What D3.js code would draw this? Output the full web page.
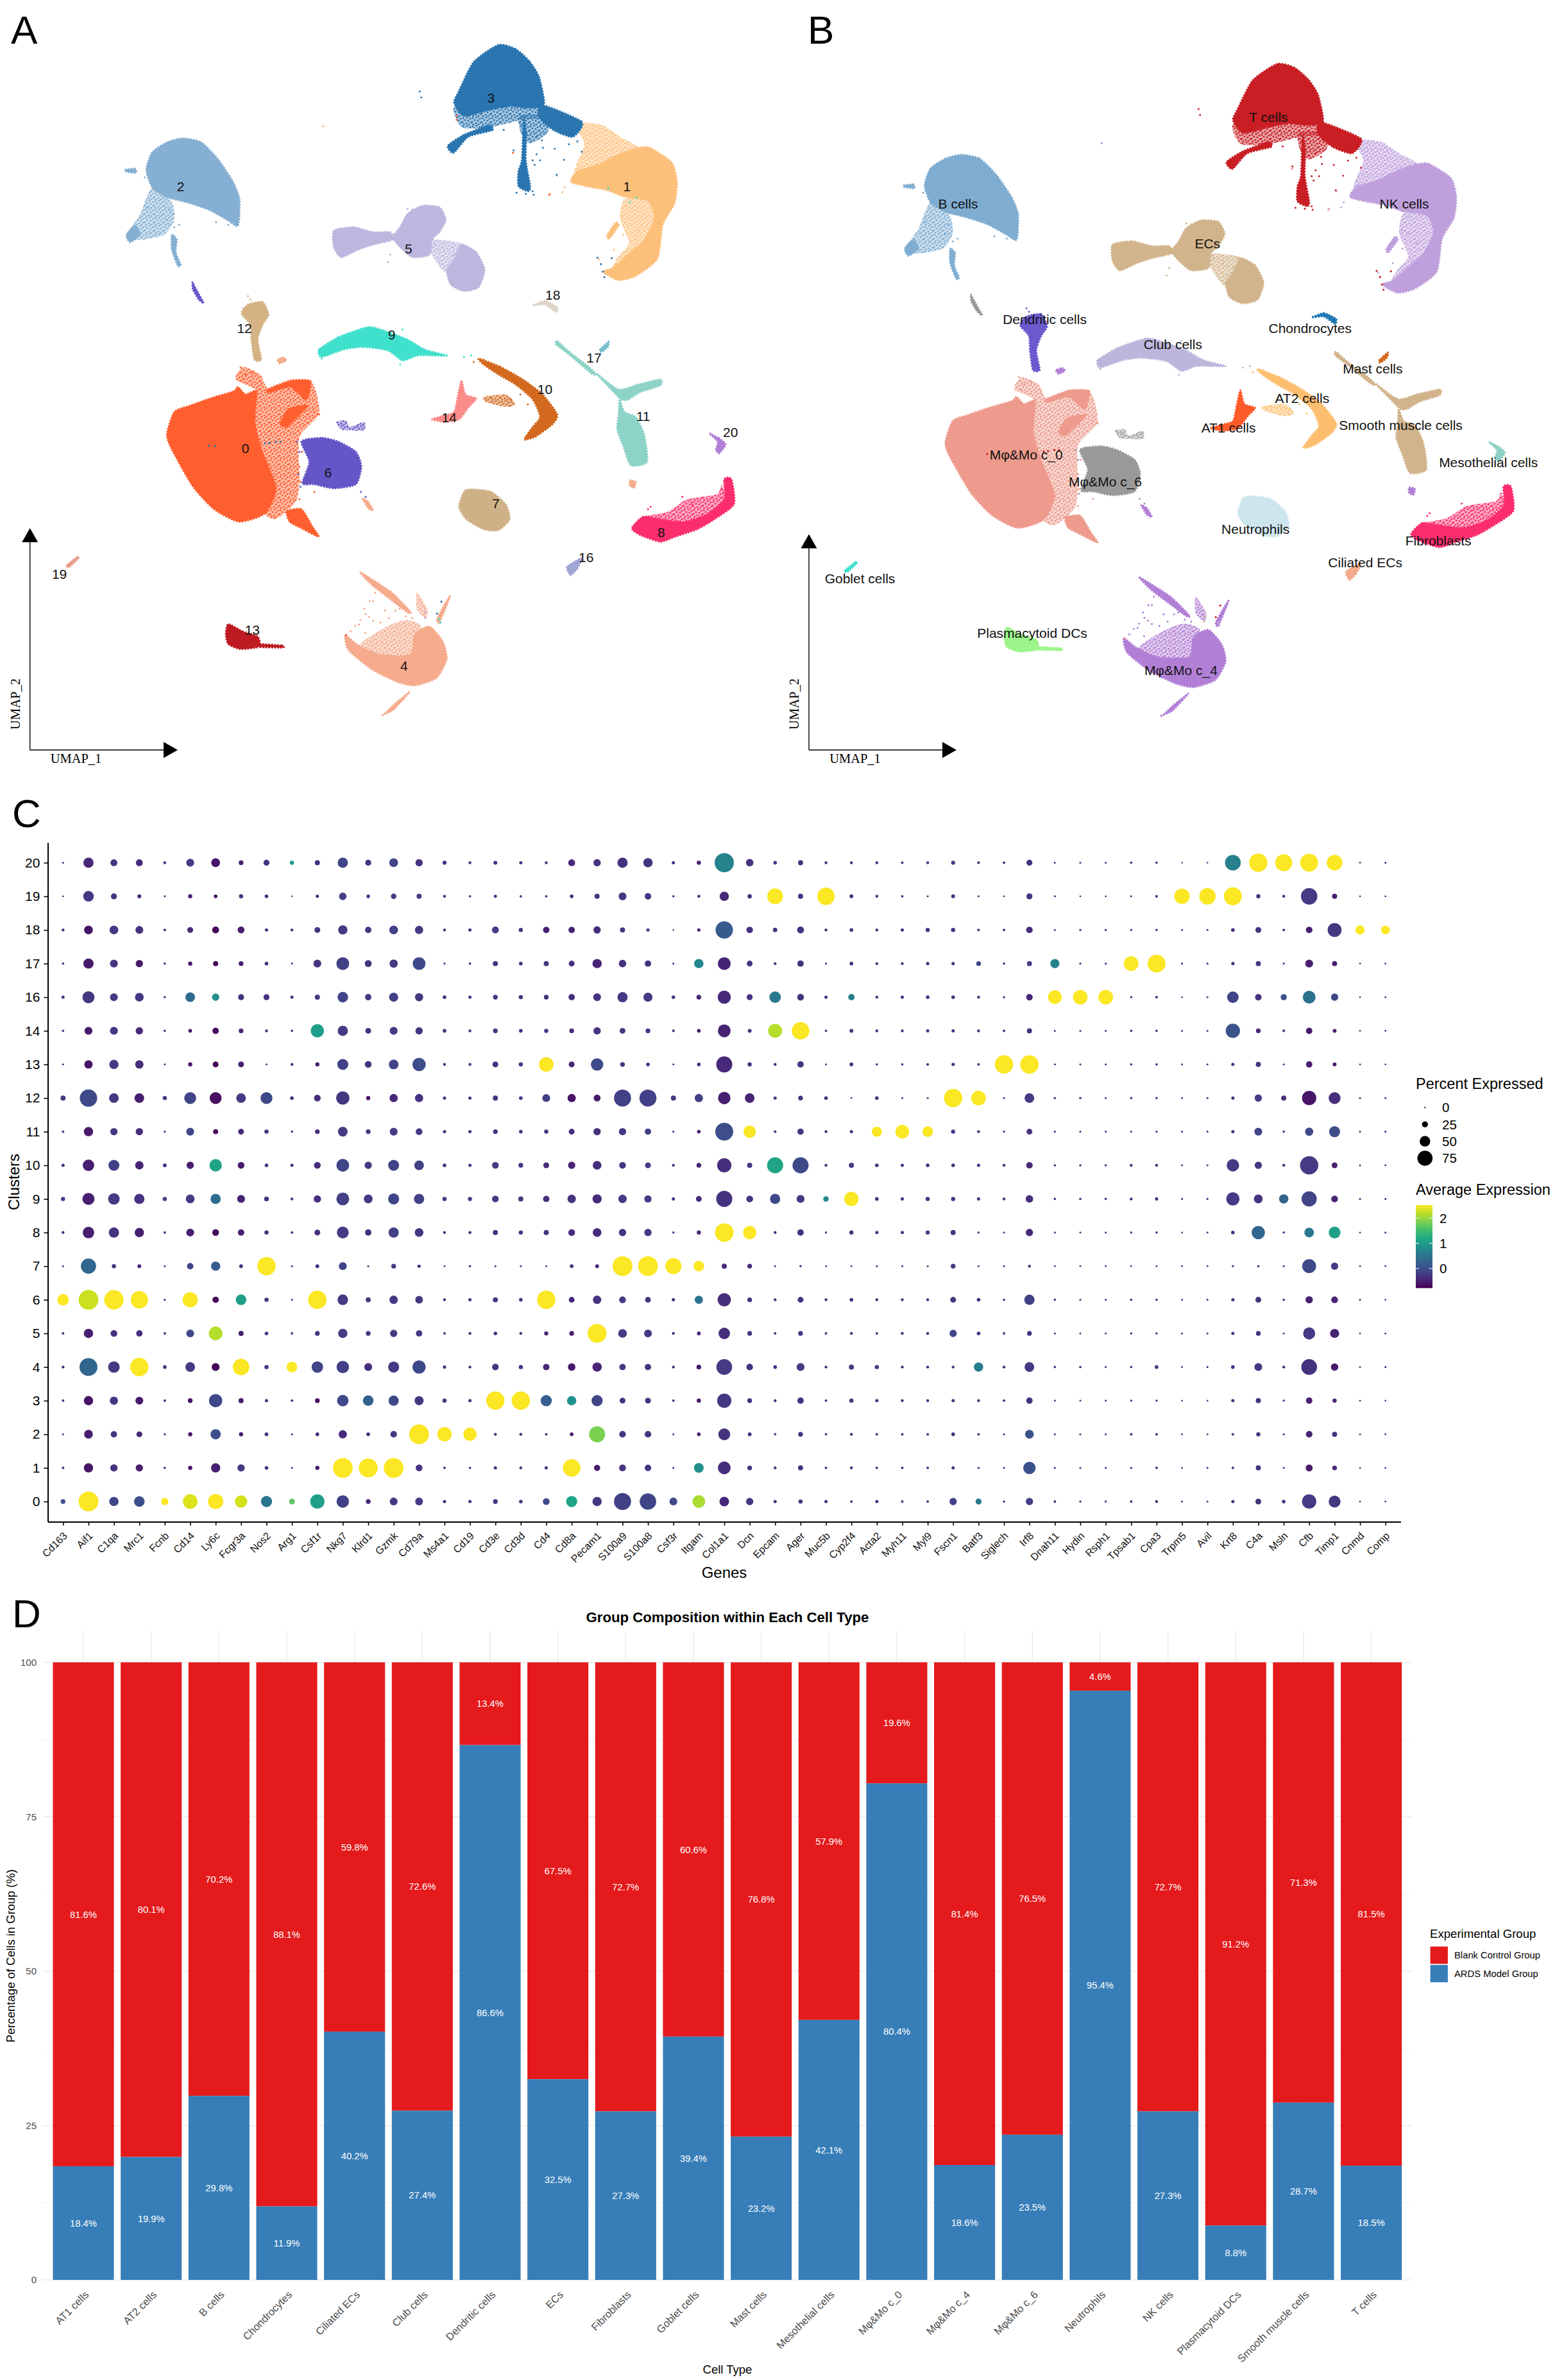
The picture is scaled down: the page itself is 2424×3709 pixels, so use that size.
<!DOCTYPE html>
<html><head><meta charset="utf-8">
<script src="https://cdn.jsdelivr.net/npm/d3@7/dist/d3.min.js"></script>
<style>
html,body{margin:0;padding:0;background:#fff}
svg{display:block}
text{font-family:"Liberation Sans",Arial,sans-serif}
</style></head><body><div id="chart"></div>
<script>
/* ---------- PANEL A / B : UMAP cell clouds (outline polygons + stray cells) ---------- */
const c0Dense=[[[485,775],[500,790],[523,784],[519,848],[536,909],[562,977],[540,1028],[487,1045],[435,1019],[392,973],[350,900],[340,870],[355,825],[388,812],[431,797],[475,784]],[[545,780],[592,762],[631,762],[632,775],[623,801],[592,775],[549,786]],[[588,819],[627,812],[610,831],[584,855],[571,848]],[[584,1024],[614,1020],[636,1054],[649,1075],[614,1058],[590,1045]]];
const c0Sparse=[[[480,760],[495,735],[530,750],[550,780],[632,763],[650,828],[610,875],[610,960],[605,1000],[585,1024],[560,1040],[540,1028],[562,977],[536,909],[519,848],[523,784]]];
const c0Dots=[[490,735],[500,750],[515,745],[495,760],[650,830],[640,825],[615,905],[610,935],[612,965],[610,1000],[640,985],[625,880]];
const c1Dense=[[[1302,296],[1324,296],[1368,325],[1379,364],[1374,407],[1350,450],[1339,518],[1294,553],[1259,561],[1228,544],[1250,536],[1280,510],[1311,480],[1333,437],[1320,402],[1272,394],[1237,381],[1194,373],[1163,364],[1176,343],[1219,330],[1263,308]],[[1254,446],[1260,452],[1241,478],[1237,471]]];
const c1Sparse=[[[1176,260],[1185,246],[1228,251],[1263,274],[1302,296],[1275,315],[1219,335],[1170,345],[1190,290]],[[1272,398],[1324,402],[1333,437],[1307,482],[1276,517],[1246,540],[1259,514],[1281,486],[1263,438]]];
const c1Dots=[[1135,352],[1120,388],[1145,385],[1150,375],[1238,378],[1268,432],[1282,440],[1270,470],[1250,500],[1220,520],[1300,460]];
const c2Dense=[[[372,277],[410,285],[445,320],[475,365],[488,400],[485,452],[462,440],[425,420],[380,405],[340,395],[310,375],[298,340],[310,305],[340,285]],[[258,470],[275,452],[285,470],[265,485]],[[350,470],[360,480],[358,505],[368,530],[362,532],[350,500]],[[255,340],[275,338],[277,346],[258,344]]];
const c2Sparse=[[[310,375],[350,405],[355,440],[335,470],[290,480],[260,480],[258,468],[285,430]]];
const c2Dots=[[355,455],[365,450],[340,440],[345,420],[330,430],[300,415],[350,490],[362,520],[295,355],[300,350],[440,445],[465,450],[480,440]];
const c3Dense=[[[1015,90],[1050,98],[1078,122],[1098,154],[1108,210],[1071,216],[1041,212],[997,220],[945,232],[925,206],[934,184],[965,124]],[[997,251],[1002,261],[954,274],[924,306],[912,292],[945,270]],[[1067,235],[1072,270],[1071,321],[1080,373],[1076,383],[1056,373],[1056,343],[1063,321],[1065,270]],[[1104,210],[1185,244],[1167,274],[1128,261],[1098,235]]];
const c3Sparse=[[[925,215],[1000,205],[1060,200],[1108,215],[1115,236],[1063,240],[997,255],[941,255]],[[1058,231],[1115,232],[1115,266],[1080,287],[1061,266]]];
const c3Dots=[[1026,260],[1046,301],[1093,274],[1104,281],[1106,296],[1093,309],[1085,321],[1100,321],[1089,330],[1130,298],[1149,320],[1159,289],[1185,304],[1176,283],[1085,383],[1087,390],[1052,386],[1071,388],[1134,350],[855,183],[858,195]];
const c4Dense=[[[703,1272],[732,1294],[775,1311],[836,1311],[845,1270],[875,1255],[902,1285],[910,1320],[889,1358],[845,1373],[810,1366],[758,1341],[710,1302]],[[734,1146],[797,1186],[836,1225],[829,1226],[788,1195],[758,1172]],[[917,1193],[910,1212],[895,1247],[890,1240],[906,1210]],[[834,1386],[821,1401],[801,1422],[777,1433],[784,1429],[805,1409]],[[738,998],[750,1005],[760,1022],[750,1018]],[[1283,962],[1295,965],[1292,977],[1283,973]],[[565,720],[578,716],[583,722],[570,728]]];
const c4Sparse=[[[732,1294],[758,1272],[797,1251],[827,1242],[858,1255],[845,1311],[775,1311]],[[849,1186],[871,1221],[867,1238],[849,1221]]];
const c4Dots=[[753,1204],[760,1204],[742,1219],[745,1230],[734,1242],[723,1253],[714,1264],[731,1251],[744,1268],[764,1187],[752,1236],[760,1243],[775,1247],[784,1223],[792,1238],[805,1223],[814,1219],[827,1234],[840,1238],[658,253]];
const c5Dense=[[[860,412],[895,415],[908,440],[895,465],[880,480],[875,510],[840,515],[815,495],[800,475],[815,455],[830,428]],[[680,462],[720,455],[760,465],[795,465],[800,480],[760,490],[730,500],[695,515],[680,495]],[[940,490],[970,505],[987,540],[975,575],[945,583],[918,570],[910,540],[925,520]]];
const c5Sparse=[[[875,480],[945,490],[930,540],[905,545],[880,510]]];
const c5Dots=[[830,418],[840,420],[695,515],[735,483],[795,510],[790,525],[870,505],[885,490],[905,500],[925,510],[935,515]];
const c6Dense=[[[614,884],[657,877],[690,885],[725,905],[736,934],[725,970],[680,978],[640,970],[616,968],[630,925]],[[392,565],[400,580],[415,607],[405,600],[393,580]]];
const c6Sparse=[[[685,845],[705,842],[712,855],[742,845],[742,862],[715,862],[695,860]]];
const c6Dots=[[605,885],[610,905],[608,950],[612,975],[735,985],[745,995]];
const c7Dense=[[[960,980],[1000,985],[1030,1010],[1038,1040],[1015,1062],[985,1060],[950,1040],[935,1015],[945,985]]];
const c8Dense=[[[1287,1058],[1310,1035],[1345,1040],[1395,1045],[1440,1030],[1475,1000],[1475,960],[1490,960],[1495,1010],[1455,1040],[1420,1060],[1375,1075],[1345,1085],[1305,1072]]];
const c8Sparse=[[[1310,1035],[1360,1025],[1400,1000],[1460,990],[1470,970],[1475,1000],[1440,1030],[1395,1045],[1345,1040]]];
const c8Dots=[[1320,1020],[1325,1015],[1390,995],[1410,1010]];
const c9Dense=[[[650,700],[690,675],[750,655],[790,665],[830,680],[865,700],[910,712],[880,712],[850,712],[820,722],[790,702],[740,695],[700,700],[655,715]]];
const c9Dots=[[655,718],[650,700],[820,660],[815,730],[960,712],[945,715]];
const c10Dense=[[[975,718],[1020,735],[1065,760],[1105,790],[1135,830],[1125,850],[1090,875],[1068,880],[1085,855],[1100,835],[1085,800],[1050,770],[1015,750],[985,730]]];
const c10Sparse=[[[985,795],[1030,790],[1050,810],[1030,815],[990,805]]];
const c10Dots=[[985,720],[965,725],[1040,800],[1060,790],[1075,810]];
const c11Dense=[[[1215,748],[1260,780],[1300,770],[1345,760],[1345,772],[1305,785],[1280,800],[1265,800],[1240,775]],[[1262,800],[1272,825],[1295,835],[1312,870],[1318,925],[1285,932],[1270,895],[1257,860],[1260,830]]];
const c12Dense=[[[505,610],[535,605],[547,630],[535,650],[525,680],[532,720],[518,720],[512,680],[510,650],[492,628]]];
const c12Dots=[[505,593],[510,600],[495,618]];
const c13Dense=[[[465,1250],[495,1265],[525,1275],[528,1295],[490,1300],[465,1290],[460,1270]],[[530,1290],[575,1293],[575,1297],[530,1296]]];
const c14Dense=[[[940,762],[948,790],[970,798],[955,815],[935,840],[905,845],[880,840],[905,832],[925,825],[932,795]]];
const c16Dense=[[[1185,1118],[1175,1140],[1162,1152],[1155,1135]]];
const c17Dense=[[[1135,683],[1160,705],[1200,735],[1215,750],[1205,748],[1165,715],[1133,690]]];
const c17bDense=[[[1222,700],[1240,684],[1238,695],[1225,705]]];
const c18Dense=[[[1085,612],[1110,603],[1135,615],[1132,625],[1110,610]]];
const c19Dense=[[[135,1133],[158,1115],[160,1118],[142,1135]]];
const c20Dense=[[[1445,868],[1465,878],[1478,890],[1465,908],[1458,900],[1462,885]]];

const cloudIds=["0","1","2","3","4","5","6","7","8","9","10","11","12","13","14","16","17","17b","18","19","20"];
const cloudDense=[c0Dense,c1Dense,c2Dense,c3Dense,c4Dense,c5Dense,c6Dense,c7Dense,c8Dense,c9Dense,c10Dense,c11Dense,c12Dense,c13Dense,c14Dense,c16Dense,c17Dense,c17bDense,c18Dense,c19Dense,c20Dense];
const cloudSparse=[c0Sparse,c1Sparse,c2Sparse,c3Sparse,c4Sparse,c5Sparse,c6Sparse,[],c8Sparse,[],c10Sparse,[],[],[],[],[],[],[],[],[],[]];
const cloudDots=[c0Dots,c1Dots,c2Dots,c3Dots,c4Dots,c5Dots,c6Dots,[],c8Dots,c9Dots,c10Dots,[],c12Dots,[],[],[],[],[],[],[],[]];
const colorsA=["#FF5E2E","#FDC07A","#85AFD3","#2A75B0","#F5AB8C","#BEB6DE","#6556C8","#CFB186","#FB2D6C","#3FE0CC","#D2691E","#8DD3C7","#D4B283","#BE1C22","#FB8C8A","#A0A6D4","#8DD3C7","#76BFCB","#DDD3C9","#E89C8A","#B07FD4"];
const colorsB=["#EE9A8C","#BFA0DC","#7FADD2","#C81E24","#B27FD6","#D2B48C","#999999","#CDE6EE","#FB2D6C","#BDB5DC","#FDBF6F","#D2B48C","#6A5ACD","#9BF58A","#FF5A2A","#F4A98A","#D2B48C","#D2691E","#1F78B4","#40E0D0","#8ECFC6"];
/* cells of one cluster sitting inside another cluster's cloud: x, y, index into cloudIds */
const foreignX=[549,562,571,540,438,425,1283,1296,1239,897,895,866,866,899,890,705,1217,1224,1228,1231,1246,1045,1119,930,930];
const foreignY=[887,885,885,888,894,893,405,396,377,1247,1240,1227,1238,1205,1229,1272,516,529,544,555,517,306,390,232,240];
const foreignCloud=[3,3,3,3,3,3,9,9,9,9,9,5,5,3,3,0,3,3,3,3,3,0,0,0,0];

const clusterLabelText=["0","1","2","3","4","5","6","7","8","9","10","11","12","13","14","16","17","18","19","20"];
const clusterLabelX=[500,1277,368,1000,823,832,668,1010,1347,798,1110,1310,498,514,915,1194,1210,1126,121,1488];
const clusterLabelY=[898,373,373,196,1333,498,946,1008,1066,670,779,833,657,1262,836,1116,716,590,1149,866];
const cellLabelText=["T cells","NK cells","B cells","ECs","Chondrocytes","Dendritic cells","Club cells","Mast cells","AT2 cells","AT1 cells","Smooth muscle cells","Mesothelial cells","Mφ&Mo c_0","Mφ&Mo c_6","Neutrophils","Fibroblasts","Ciliated ECs","Goblet cells","Plasmacytoid DCs","Mφ&Mo c_4"];
const cellLabelX=[996,1267,376,874,1079,549,805,1204,1063,916,1260,1435,512,670,970,1335,1189,180,524,821];
const cellLabelY=[235,408,408,488,657,639,690,738,798,856,851,926,911,965,1060,1083,1127,1159,1268,1343];

/* ---------- PANEL C : dot plot ---------- */
const genes=["Cd163","Aif1","C1qa","Mrc1","Fcnb","Cd14","Ly6c","Fcgr3a","Nos2","Arg1","Csf1r","Nkg7","Klrd1","Gzmk","Cd79a","Ms4a1","Cd19","Cd3e","Cd3d","Cd4","Cd8a","Pecam1","S100a9","S100a8","Csf3r","Itgam","Col1a1","Dcn","Epcam","Ager","Muc5b","Cyp2f4","Acta2","Myh11","Myl9","Fscn1","Batf3","Siglech","Irf8","Dnah11","Hydin","Rsph1","Tpsab1","Cpa3","Trpm5","Avil","Krt8","C4a","Msln","Cfb","Timp1","Cnmd","Comp"];
const dotClusters=[0,1,2,3,4,5,6,7,8,9,10,11,12,13,14,16,17,18,19,20];
const percentExpressed=[
[18,100,43,50,32,72,75,60,53,24,70,60,18,35,35,10,10,18,12,29,53,43,85,82,35,62,45,32,10,15,10,6,10,6,6,32,25,5,32,6,4,4,6,8,3,3,10,24,12,70,57,2,2],
[6,43,32,32,5,15,43,32,12,3,15,100,95,100,29,6,5,10,8,10,88,26,29,28,3,45,62,18,8,20,6,8,6,6,6,10,4,3,60,3,3,3,4,6,2,3,6,20,3,30,18,2,2],
[3,40,27,24,4,15,48,15,12,3,12,37,12,28,100,70,65,8,8,6,12,80,28,28,3,12,57,13,5,18,5,8,6,6,6,12,6,3,40,3,3,3,6,6,2,2,6,15,3,28,20,2,2],
[6,43,37,35,6,18,65,20,10,6,18,55,50,48,42,15,10,92,92,53,43,53,24,24,6,15,70,18,8,27,6,15,10,8,8,10,8,6,27,3,3,3,4,4,2,2,10,20,4,27,15,2,2],
[8,90,55,92,12,45,35,82,15,50,55,60,35,52,65,10,8,28,15,27,33,43,27,27,8,18,78,28,12,35,8,20,15,8,8,8,43,8,45,5,5,3,5,12,2,3,12,35,8,78,32,2,3],
[6,43,29,27,6,35,67,20,12,6,18,43,18,32,27,6,8,12,8,15,18,95,40,35,8,13,55,18,6,18,6,8,6,8,8,32,12,6,18,3,3,3,5,5,3,3,10,18,3,58,42,2,3],
[55,100,98,87,4,75,27,50,15,3,92,50,20,38,34,8,10,20,12,92,24,38,29,24,10,37,65,18,8,24,8,12,8,8,8,24,12,5,48,5,3,3,5,5,3,3,10,24,5,32,29,3,2],
[3,75,15,13,3,27,43,13,92,3,13,35,3,18,10,2,5,3,3,2,12,13,100,100,80,50,20,18,3,5,3,2,3,3,3,18,3,3,8,2,2,2,2,2,2,2,4,5,3,68,32,2,2],
[8,55,48,43,6,35,29,27,15,6,24,57,27,48,40,8,9,20,15,20,29,40,32,32,5,15,93,65,8,27,4,15,10,10,15,20,4,3,32,3,3,3,4,5,2,3,12,65,5,45,57,2,3],
[15,58,55,48,15,40,48,35,18,8,32,62,40,52,48,15,15,29,20,27,38,42,38,32,10,24,80,29,48,35,22,70,12,10,15,15,10,8,33,5,5,5,8,10,3,3,65,40,43,75,29,3,3],
[10,55,52,38,13,32,60,29,12,10,29,62,32,52,45,12,10,29,18,24,32,40,29,24,8,18,70,20,80,80,8,20,12,10,12,12,10,8,28,5,5,5,8,8,3,3,60,32,8,92,24,3,3],
[6,43,32,32,4,35,20,24,15,5,18,45,18,35,29,10,10,18,12,15,24,32,32,27,4,12,90,60,7,27,8,10,48,67,50,15,8,4,24,4,3,3,3,4,3,3,10,35,5,37,52,3,3],
[20,87,45,45,15,57,57,45,57,12,29,65,15,37,37,10,10,20,12,35,37,30,85,85,20,37,60,45,10,18,12,2,12,3,3,92,72,3,45,5,5,3,5,5,3,3,10,32,20,70,57,3,3],
[3,38,43,38,3,15,24,24,3,8,15,52,29,45,65,8,8,24,15,72,24,60,18,12,3,12,80,15,8,27,3,13,5,5,7,10,6,92,93,3,3,3,5,5,3,3,10,20,3,27,13,2,2],
[5,35,35,32,5,12,27,18,8,5,65,48,24,35,32,12,8,18,12,15,18,32,24,18,7,12,62,13,68,88,5,13,8,8,10,10,8,6,20,3,3,3,5,5,3,3,70,18,7,27,13,2,2],
[10,58,35,40,5,45,32,25,25,10,20,50,27,42,37,12,10,18,15,18,27,35,48,42,12,18,64,25,55,29,10,27,8,10,12,12,8,5,28,67,72,72,5,7,2,3,55,28,26,62,32,2,3],
[5,48,35,32,5,15,20,18,12,3,35,62,30,37,62,3,6,20,12,20,24,43,33,27,3,43,62,24,8,27,3,12,8,8,10,10,18,5,20,42,3,3,72,90,3,3,10,20,3,35,20,2,2],
[8,40,40,35,7,24,30,30,10,8,24,43,27,40,37,8,10,30,15,27,27,32,20,10,1,10,87,28,16,30,8,12,8,10,15,15,7,6,28,3,4,4,4,5,3,3,12,24,7,28,68,42,40],
[2,50,25,14,3,15,12,15,12,1,10,33,12,22,20,8,5,10,6,6,12,20,35,28,5,8,43,16,78,20,87,13,8,6,3,13,3,2,25,3,2,2,3,7,76,82,90,15,8,82,20,2,2],
[3,48,30,30,8,35,40,18,25,15,20,48,25,40,32,14,8,13,10,8,30,32,48,43,10,15,97,33,12,20,8,8,8,6,8,14,7,6,25,3,3,3,5,5,1,1,78,92,85,90,78,2,3]
];
const averageExpression=[
[0,2.5,-.1,0,2.5,2.35,2.5,2.3,.5,1.7,1.1,-.15,-.4,-.25,-.2,-.3,-.3,-.3,-.3,-.05,1.15,-.25,-.15,-.1,-.05,2.1,-.4,-.25,-.3,-.3,-.3,-.3,-.3,-.3,-.3,-.15,.55,-.3,-.15,-.3,-.3,-.3,-.3,-.3,-.3,-.3,-.3,-.3,-.3,-.2,-.25,-.3,-.3],
[-.3,-.6,-.3,-.5,-.3,-.65,-.5,-.25,-.3,-.3,-.55,2.5,2.5,2.5,-.3,-.3,-.3,-.3,-.3,-.35,2.5,-.55,-.3,-.25,-.3,.85,-.35,-.3,-.3,-.3,-.3,-.3,-.3,-.3,-.3,-.3,-.3,-.3,.05,-.3,-.3,-.3,-.3,-.3,-.3,-.3,-.3,-.3,-.3,-.55,-.4,-.3,-.3],
[-.3,-.5,-.25,-.4,-.3,-.6,0,-.55,-.3,-.3,-.4,-.4,-.3,-.25,2.5,2.5,2.5,-.3,-.3,-.3,-.55,1.85,-.3,-.25,-.3,-.5,-.3,-.3,-.3,-.3,-.3,-.3,-.3,-.3,-.3,-.3,-.3,-.3,.05,-.3,-.3,-.3,-.3,-.3,-.3,-.3,-.3,-.3,-.3,-.45,-.3,-.3,-.3],
[-.3,-.6,-.25,-.55,-.3,-.6,-.05,-.55,-.3,-.3,-.65,-.05,.25,-.05,-.25,-.3,-.3,2.5,2.5,.2,.9,-.1,-.3,-.3,-.3,-.6,-.25,-.3,-.3,-.3,-.3,-.3,-.3,-.3,-.3,-.3,-.3,-.3,-.3,-.3,-.3,-.3,-.3,-.3,-.3,-.3,-.3,-.3,-.3,-.5,-.4,-.3,-.3],
[-.3,.3,-.2,2.5,-.3,-.2,-.75,2.5,-.3,2.5,-.1,-.15,-.35,-.2,-.05,-.3,-.3,-.3,-.3,-.45,-.55,-.45,-.25,-.25,-.3,-.55,-.2,-.3,-.3,-.2,-.3,-.2,-.25,-.3,-.3,-.3,.6,-.3,-.2,-.3,-.3,-.3,-.3,-.3,-.3,-.3,-.3,-.2,-.3,-.3,-.55,-.3,-.3],
[-.3,-.5,-.3,-.35,-.3,-.05,2.15,-.5,-.3,-.3,-.3,-.2,-.3,-.2,-.25,-.3,-.3,-.3,-.3,-.4,-.5,2.5,-.2,-.2,-.3,-.45,-.35,-.3,-.3,-.3,-.3,-.3,-.3,-.3,-.3,-.1,-.3,-.3,-.3,-.3,-.3,-.3,-.3,-.3,-.3,-.3,-.3,-.3,-.3,-.2,-.45,-.3,-.3],
[2.5,2.25,2.5,2.5,-.3,2.5,-.7,1.05,-.3,-.3,2.5,-.2,-.3,-.2,-.25,-.3,-.3,-.3,-.3,2.5,-.4,-.3,-.25,-.25,-.3,.45,-.35,-.3,-.3,-.3,-.3,-.3,-.3,-.3,-.3,-.25,-.3,-.3,-.15,-.3,-.3,-.3,-.3,-.3,-.3,-.3,-.3,-.3,-.3,-.5,-.45,-.3,-.3],
[-.3,.3,-.3,-.4,-.3,-.1,.15,-.25,2.5,-.3,-.3,-.1,-.3,-.2,-.4,-.3,-.3,-.3,-.3,-.3,-.3,-.45,2.5,2.5,2.5,2.5,-.4,-.35,-.3,-.3,-.3,-.3,-.3,-.3,-.3,-.2,-.3,-.3,-.3,-.3,-.3,-.3,-.3,-.3,-.3,-.3,-.3,-.3,-.3,-.05,-.2,-.3,-.3],
[-.3,-.5,-.3,-.5,-.3,-.5,-.7,-.5,-.3,-.3,-.35,-.2,-.3,-.15,-.25,-.3,-.3,-.3,-.3,-.3,-.35,-.4,-.3,-.25,-.3,-.4,2.5,2.5,-.3,-.35,-.3,-.3,-.3,-.3,-.25,-.3,-.3,-.3,-.4,-.3,-.3,-.3,-.3,-.3,-.3,-.3,-.3,.3,-.3,.55,1.1,-.3,-.3],
[-.2,-.5,-.2,-.3,-.2,-.2,.4,-.45,-.3,-.3,-.35,-.15,-.25,-.1,-.15,-.25,-.2,-.2,-.2,-.35,-.3,-.4,-.2,-.2,-.2,-.35,-.3,-.3,-.05,-.25,.75,2.5,-.3,-.3,-.3,-.3,-.3,-.3,-.35,-.3,-.3,-.3,-.3,-.3,-.3,-.3,-.2,-.3,.25,-.1,-.45,-.3,-.3],
[-.3,-.5,-.15,-.45,-.3,-.5,1.15,-.55,-.3,-.3,-.35,-.1,-.25,-.1,-.15,-.3,-.3,-.2,-.25,-.35,-.45,-.35,-.25,-.2,-.3,-.45,-.35,-.3,1.15,-.05,-.3,-.2,-.3,-.3,-.3,-.3,-.3,-.3,-.4,-.3,-.3,-.3,-.3,-.3,-.3,-.3,-.2,-.25,-.3,-.2,-.5,-.3,-.3],
[-.3,-.55,-.25,-.35,-.3,-.1,-.7,-.4,-.3,-.3,-.35,-.2,-.3,-.2,-.25,-.3,-.3,-.3,-.3,-.3,-.35,-.35,-.25,-.15,-.3,-.5,0,2.5,-.3,-.25,-.3,-.3,2.5,2.5,2.5,-.2,-.3,-.3,-.3,-.3,-.3,-.3,-.3,-.3,-.3,-.3,-.3,-.1,-.3,-.05,0,-.3,-.3],
[-.2,-.05,-.25,-.5,-.2,-.1,-.65,-.2,-.05,-.3,-.35,-.25,-.6,-.4,-.3,-.3,-.3,-.3,-.3,-.15,-.6,-.55,-.15,-.15,-.2,-.15,-.5,-.45,-.3,-.3,-.3,-.3,-.3,-.3,-.3,2.5,2.5,-.3,-.2,-.3,-.3,-.3,-.3,-.3,-.3,-.3,-.4,-.2,-.35,-.6,-.35,-.3,-.3],
[-.3,-.6,-.2,-.35,-.3,-.6,-.8,-.5,-.3,-.3,-.5,-.15,-.3,-.1,0,-.3,-.3,-.3,-.3,2.5,-.4,-.05,-.3,-.3,-.3,-.4,-.4,-.3,-.3,-.25,-.3,-.3,-.3,-.3,-.3,-.3,-.3,2.5,2.5,-.3,-.3,-.3,-.3,-.3,-.3,-.3,-.3,-.3,-.3,-.5,-.55,-.3,-.3],
[-.3,-.55,-.25,-.4,-.3,-.6,-.7,-.4,-.3,-.3,1.05,-.2,-.3,-.2,-.25,-.3,-.3,-.25,-.3,-.3,-.35,-.3,-.25,-.25,-.3,-.5,-.45,-.3,2.15,2.5,-.3,-.3,-.3,-.3,-.3,-.3,-.3,-.3,-.3,-.3,-.3,-.3,-.3,-.3,-.3,-.3,.05,-.4,-.3,-.55,-.5,-.3,-.3],
[-.2,-.25,-.25,-.25,-.3,.35,.85,-.3,-.3,-.3,-.3,-.1,-.25,-.15,-.25,-.3,-.3,-.25,-.3,-.3,-.3,-.3,-.2,-.2,-.2,-.4,-.4,-.3,.55,-.3,-.3,.65,-.3,-.3,-.25,-.25,-.3,-.3,-.4,2.5,2.5,2.5,-.3,-.3,-.3,-.3,-.1,-.3,.05,.45,-.05,-.3,-.3],
[-.3,-.55,-.3,-.55,-.3,-.6,-.8,-.55,-.3,-.3,-.3,-.15,-.3,-.25,-.05,-.3,-.3,-.3,-.3,-.3,-.3,-.45,-.3,-.3,-.3,.75,-.45,-.3,-.3,-.3,-.3,-.3,-.3,-.3,-.3,-.3,-.1,-.3,-.2,.7,-.3,-.3,2.5,2.5,-.3,-.3,-.3,-.3,-.3,-.5,-.5,-.3,-.3],
[-.3,-.6,-.25,-.3,-.3,-.4,-.75,-.5,-.3,-.3,-.3,-.25,-.25,-.15,-.25,-.3,-.3,-.2,-.3,-.5,-.45,-.35,-.3,-.3,-.3,-.5,.15,-.3,-.3,-.3,-.3,-.3,-.3,-.3,-.3,-.3,-.3,-.3,-.35,-.3,-.3,-.3,-.3,-.3,-.3,-.3,-.4,-.3,-.3,-.5,-.25,2.5,2.5],
[-.3,-.25,-.3,-.4,-.3,-.45,-.7,-.3,-.3,-.3,-.3,-.15,-.3,-.2,-.2,-.3,-.3,-.2,-.3,-.3,-.4,-.3,-.25,-.25,-.3,-.4,-.4,-.3,2.5,-.3,2.5,-.3,-.3,-.3,-.3,-.3,-.3,-.3,-.3,-.3,-.3,-.3,-.3,-.3,2.5,2.5,2.5,-.3,-.3,-.2,-.5,-.3,-.3],
[-.3,-.4,-.3,-.4,-.3,-.2,-.6,-.5,-.3,1,-.3,-.1,-.3,-.1,-.3,-.3,-.3,-.3,-.3,-.3,-.4,-.3,-.3,-.3,-.3,-.5,.7,-.3,-.1,-.3,-.3,-.3,-.3,-.3,-.3,-.2,-.3,-.3,-.3,-.3,-.3,-.3,-.3,-.3,-.3,-.3,.65,2.5,2.5,2.5,2.5,-.3,-.3]
];
const sizeLegendValues=[0,25,50,75];
const colorTicks=[0,1,2];

/* ---------- PANEL D : stacked bars ---------- */
const cellTypes=["AT1 cells","AT2 cells","B cells","Chondrocytes","Ciliated ECs","Club cells","Dendritic cells","ECs","Fibroblasts","Goblet cells","Mast cells","Mesothelial cells","Mφ&Mo c_0","Mφ&Mo c_4","Mφ&Mo c_6","Neutrophils","NK cells","Plasmacytoid DCs","Smooth muscle cells","T cells"];
const blankControl=[81.6,80.1,70.2,88.1,59.8,72.6,13.4,67.5,72.7,60.6,76.8,57.9,19.6,81.4,76.5,4.6,72.7,91.2,71.3,81.5];
const ardsModel=[18.4,19.9,29.8,11.9,40.2,27.4,86.6,32.5,27.3,39.4,23.2,42.1,80.4,18.6,23.5,95.4,27.3,8.8,28.7,18.5];
const groupNames=["Blank Control Group","ARDS Model Group"];
const groupColors=["#E41A1C","#377EB8"];
const pctTicks=[0,25,50,75,100];
const pctMinor=[12.5,37.5,62.5,87.5];

/* ---------- drawing ---------- */
const svg=d3.select("#chart").append("svg").attr("width",2424).attr("height",3709).style("background","#fff");
const defs=svg.append("defs");

/* speckle texture standing in for the low-density parts of a cloud */
function speckle(id,color){
  const p=defs.append("pattern").attr("id",id).attr("patternUnits","userSpaceOnUse").attr("width",15).attr("height",13);
  p.append("rect").attr("width",15).attr("height",13).attr("fill",color).attr("opacity",.38);
  [[2,2],[8,1],[13,3],[5,5],[10,6],[1,8],[14,9],[7,10],[3,12],[11,12]].forEach(d=>p.append("circle").attr("cx",d[0]).attr("cy",d[1]).attr("r",1.6).attr("fill",color));
}
function umapPanel(key,xs,ys,colors){
  const g=svg.append("g").attr("class","umap-"+key);
  const line=d3.line().x(d=>xs(d[0])).y(d=>ys(d[1])).curve(d3.curveCardinalClosed.tension(.35));
  cloudIds.forEach((id,i)=>{
    const pid="sp-"+key+"-"+id;
    speckle(pid,colors[i]);
    g.selectAll(null).data(cloudSparse[i]).enter().append("path").attr("d",line).attr("fill","url(#"+pid+")");
    g.selectAll(null).data(cloudDense[i]).enter().append("path").attr("d",line).attr("fill",colors[i])
      .attr("stroke",colors[i]).attr("stroke-width",3.2).attr("stroke-linecap","round").attr("stroke-dasharray","0 4.5");
    g.selectAll(null).data(cloudDots[i]).enter().append("circle").attr("cx",d=>xs(d[0])).attr("cy",d=>ys(d[1])).attr("r",1.5).attr("fill",colors[i]);
  });
  g.selectAll(".foreign").data(foreignX).enter().append("circle").attr("class","foreign")
    .attr("cx",d=>xs(d)).attr("cy",(d,i)=>ys(foreignY[i])).attr("r",1.6).attr("fill",(d,i)=>colors[foreignCloud[i]]);
  return g;
}
function umapAxes(g,x0,y0,xEnd,yEnd,lab1x,lab2x){
  g.append("line").attr("x1",x0).attr("x2",xEnd-21).attr("y1",y0).attr("y2",y0).attr("stroke","#000").attr("stroke-width",1.4);
  g.append("line").attr("x1",x0).attr("x2",x0).attr("y1",y0).attr("y2",yEnd+21).attr("stroke","#000").attr("stroke-width",1.4);
  g.append("path").attr("d",`M${xEnd},${y0}L${xEnd-22},${y0-12.5}L${xEnd-22},${y0+12.5}Z`).attr("fill","#000");
  g.append("path").attr("d",`M${x0},${yEnd}L${x0-12.5},${yEnd+22}L${x0+12.5},${yEnd+22}Z`).attr("fill","#000");
  g.append("text").attr("x",lab1x).attr("y",1189).attr("text-anchor","middle").style("font-family","'Liberation Serif',serif").style("font-size","20.5px").text("UMAP_1");
  g.append("text").attr("transform",`translate(${lab2x},1097) rotate(-90)`).attr("text-anchor","middle").style("font-family","'Liberation Serif',serif").style("font-size","20.5px").text("UMAP_2");
}
/* shared UMAP reading grid -> panel pixels */
const xA=d3.scaleLinear().domain([0,1568]).range([0,1200]);
const yA=d3.scaleLinear().domain([0,1568]).range([0,1220]);
const xB=d3.scaleLinear().domain([0,1568]).range([1200+16.6/1.281,1200+(16.6+.982*1568)/1.281]);
const yB=d3.scaleLinear().domain([0,1568]).range([40.4/1.2852,(40.4+.973*1568)/1.2852]);
const xBLab=d3.scaleLinear().domain([0,1568]).range([1200,2424]);

const gA=umapPanel("A",xA,yA,colorsA);
umapAxes(gA,46.7,1168.7,277,823,118.5,31);
gA.selectAll(".lab").data(clusterLabelText).enter().append("text").attr("class","lab")
  .attr("x",(d,i)=>xA(clusterLabelX[i])).attr("y",(d,i)=>yA(clusterLabelY[i])).attr("dy",".36em").attr("text-anchor","middle")
  .style("font-size","21px").attr("fill","#111").text(d=>d);
const gB=umapPanel("B",xB,yB,colorsB);
umapAxes(gB,1261,1168.7,1491,832.6,1333,1245);
gB.selectAll(".lab").data(cellLabelText).enter().append("text").attr("class","lab")
  .attr("x",(d,i)=>xBLab(cellLabelX[i])).attr("y",(d,i)=>yA(cellLabelY[i])).attr("dy",".36em").attr("text-anchor","middle")
  .style("font-size","21px").attr("fill","#111").text(d=>d);

/* panel letters */
[["A",17,68],["B",1259,68],["C",19,1289],["D",19,2536]].forEach(d=>
  svg.append("text").attr("x",d[1]).attr("y",d[2]).style("font-size","62px").attr("fill","#000").text(d[0]));

/* Panel C */
const xDot=d3.scalePoint().domain(genes).range([74.5,2183.5]).padding(.6);
const yDot=d3.scalePoint().domain(dotClusters).range([2371.4,1313]).padding(.6);
const rDot=d3.scaleLinear().domain([0,100]).range([1.1,15.4]);
const cDot=d3.scaleSequential(d3.interpolateViridis).domain([-.78,2.52]);
const gC=svg.append("g").attr("class","dotplot");
const dots=[];
dotClusters.forEach((c,r)=>genes.forEach((g,k)=>dots.push({c,g,p:percentExpressed[r][k],e:averageExpression[r][k]})));
gC.selectAll("circle").data(dots).enter().append("circle")
  .attr("cx",d=>xDot(d.g)).attr("cy",d=>yDot(d.c)).attr("r",d=>rDot(d.p)).attr("fill",d=>cDot(d.e));
const axL=gC.append("g").attr("transform","translate(74.5,0)").call(d3.axisLeft(yDot).tickSize(6).tickSizeOuter(0));
const axB=gC.append("g").attr("transform","translate(0,2371.4)").call(d3.axisBottom(xDot).tickSize(6).tickSizeOuter(0));
[axL,axB].forEach(a=>{a.select(".domain").attr("stroke","#000").attr("stroke-width",2);a.selectAll("line").attr("stroke","#000").attr("stroke-width",1.6);});
axL.selectAll("text").style("font-size","21px").style("font-family","'Liberation Sans'").attr("fill","#000").attr("dx","-.15em");
axB.selectAll("text").style("font-size","16px").style("font-family","'Liberation Sans'").attr("fill","#111")
  .attr("text-anchor","end").attr("dy",0).attr("y",0).attr("x",0)
  .attr("transform","translate(7,23) rotate(-45)");
gC.append("text").attr("transform","translate(30,1842) rotate(-90)").attr("text-anchor","middle").style("font-size","24px").text("Clusters");
gC.append("text").attr("x",1129).attr("y",2459).attr("text-anchor","middle").style("font-size","24px").text("Genes");
/* size legend */
gC.append("text").attr("x",2207).attr("y",1697).style("font-size","23.5px").text("Percent Expressed");
const legY=d3.scalePoint().domain(sizeLegendValues).range([1725.8,1805]);
sizeLegendValues.forEach(v=>{
  gC.append("circle").attr("cx",2221.3).attr("cy",legY(v)).attr("r",rDot(v)).attr("fill","#000");
  gC.append("text").attr("x",2248).attr("y",legY(v)).attr("dy",".36em").style("font-size","20.5px").text(v);
});
gC.append("text").attr("x",2207).attr("y",1862).style("font-size","23.5px").text("Average Expression");
const grad=defs.append("linearGradient").attr("id","cbar").attr("x1",0).attr("x2",0).attr("y1",1).attr("y2",0);
d3.range(0,1.001,.1).forEach(t=>grad.append("stop").attr("offset",t).attr("stop-color",d3.interpolateViridis(t)));
const yBar=d3.scaleLinear().domain([-.78,2.52]).range([2007.4,1878]);
gC.append("rect").attr("x",2207).attr("y",1878).attr("width",26).attr("height",129.4).attr("fill","url(#cbar)");
colorTicks.forEach(v=>{
  gC.append("line").attr("x1",2207).attr("x2",2212).attr("y1",yBar(v)).attr("y2",yBar(v)).attr("stroke","#fff").attr("stroke-width",1);
  gC.append("line").attr("x1",2228).attr("x2",2233).attr("y1",yBar(v)).attr("y2",yBar(v)).attr("stroke","#fff").attr("stroke-width",1);
  gC.append("text").attr("x",2244).attr("y",yBar(v)).attr("dy",".36em").style("font-size","20.5px").text(v);
});

/* Panel D */
const xBar=d3.scalePoint().domain(cellTypes).range([66.6,2201]).padding(.6);
const yPct=d3.scaleLinear().domain([0,100]).range([3553,2590.6]);
const bw=xBar.step()*.9;
const gD=svg.append("g").attr("class","bars");
gD.selectAll(".gmin").data(pctMinor).enter().append("line").attr("x1",66.6).attr("x2",2201).attr("y1",d=>yPct(d)).attr("y2",d=>yPct(d)).attr("stroke","#f0f0f0").attr("stroke-width",1);
gD.selectAll(".gmaj").data(pctTicks).enter().append("line").attr("x1",66.6).attr("x2",2201).attr("y1",d=>yPct(d)).attr("y2",d=>yPct(d)).attr("stroke","#ebebeb").attr("stroke-width",1.5);
gD.selectAll(".gv").data(cellTypes).enter().append("line").attr("x1",d=>xBar(d)).attr("x2",d=>xBar(d)).attr("y1",2542).attr("y2",3553).attr("stroke","#ebebeb").attr("stroke-width",1.5);
cellTypes.forEach((t,i)=>{
  const xc=xBar(t);
  gD.append("rect").attr("x",xc-bw/2).attr("width",bw).attr("y",yPct(100)).attr("height",yPct(ardsModel[i])-yPct(100)).attr("fill",groupColors[0]);
  gD.append("rect").attr("x",xc-bw/2).attr("width",bw).attr("y",yPct(ardsModel[i])).attr("height",yPct(0)-yPct(ardsModel[i])).attr("fill",groupColors[1]);
  gD.append("text").attr("x",xc).attr("y",yPct(ardsModel[i]+blankControl[i]/2)).attr("dy",".36em").attr("text-anchor","middle").attr("fill","#fff").style("font-size","14.8px").text(blankControl[i].toFixed(1)+"%");
  gD.append("text").attr("x",xc).attr("y",yPct(ardsModel[i]/2)).attr("dy",".36em").attr("text-anchor","middle").attr("fill","#fff").style("font-size","14.8px").text(ardsModel[i].toFixed(1)+"%");
});
const dyAx=gD.append("g").attr("transform","translate(60,0)").call(d3.axisLeft(yPct).tickValues(pctTicks).tickSize(0));
dyAx.select(".domain").remove();
dyAx.selectAll("text").style("font-size","15px").style("font-family","'Liberation Sans'").attr("fill","#4d4d4d");
const dxAx=gD.append("g").attr("transform","translate(0,3553)").call(d3.axisBottom(xBar).tickSize(0));
dxAx.select(".domain").remove();
dxAx.selectAll("text").style("font-size","16.3px").style("font-family","'Liberation Sans'").attr("fill","#4d4d4d")
  .attr("text-anchor","end").attr("dy",0).attr("y",0).attr("x",0).attr("transform","translate(9,24) rotate(-45)");
gD.append("text").attr("x",1134).attr("y",2528).attr("text-anchor","middle").style("font-size","22.2px").style("font-weight","bold").text("Group Composition within Each Cell Type");
gD.append("text").attr("x",1134).attr("y",3699).attr("text-anchor","middle").style("font-size","18.5px").text("Cell Type");
gD.append("text").attr("transform","translate(23,3048) rotate(-90)").attr("text-anchor","middle").style("font-size","18.4px").text("Percentage of Cells in Group (%)");
gD.append("text").attr("x",2229).attr("y",3020).style("font-size","18.6px").text("Experimental Group");
groupNames.forEach((n,i)=>{
  gD.append("rect").attr("x",2229.6).attr("y",3033.5+i*28.7).attr("width",27.3).attr("height",27).attr("fill",groupColors[i]);
  gD.append("text").attr("x",2267).attr("y",3047+i*28.7).attr("dy",".36em").style("font-size","14.8px").text(n);
});
</script></body></html>
